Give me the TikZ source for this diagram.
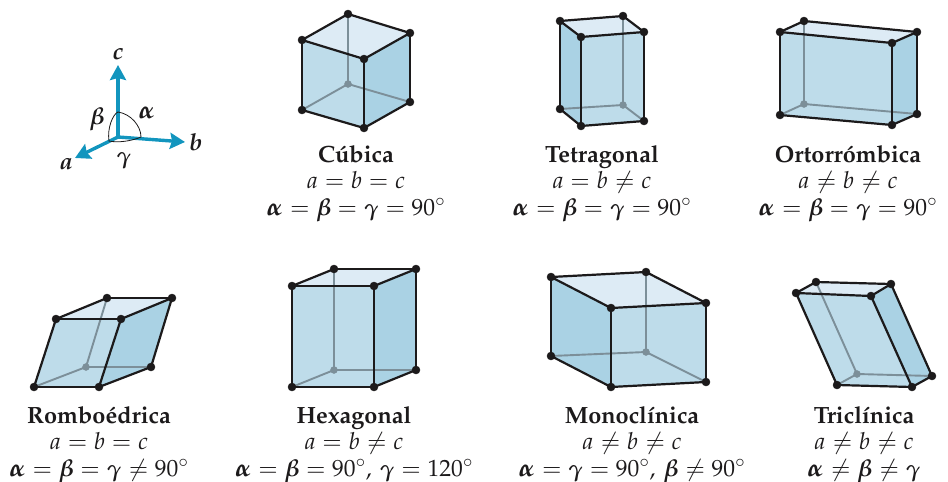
\documentclass[tikz,border=0pt]{standalone}
\usepackage[T1]{fontenc}
\usepackage{amsmath,amssymb}
\usepackage{mathpazo}
\usepackage{tikz,tkz-euclide}
\usetikzlibrary{arrows.meta}
\definecolor{celBase}{HTML}{BEDCEA}
\definecolor{celTop}{HTML}{DDEBF5}
\definecolor{celSide}{HTML}{AAD2E4}
\definecolor{celBack}{HTML}{7C8F99}
\definecolor{celEdge}{HTML}{1C1A1B}
\definecolor{axisBlue}{HTML}{1295BE}
\tikzset{
	celltext/.style={align=center, anchor=base, text=celEdge, inner sep=0pt, font=\fontsize{23.5}{26.5}\selectfont},
	axislabel/.style={text=celEdge, inner sep=0pt, font=\fontsize{23.5}{26}\selectfont},
	axisarrow/.style={axisBlue, line width=3.4pt, -{Stealth[length=15pt,width=16pt,inset=2pt]}}
}
\newcommand{\ga}{\scalebox{1.25}[1.05]{$\boldsymbol{\alpha}$}}
\newcommand{\gb}{\boldsymbol{\beta}}
\newcommand{\gc}{\boldsymbol{\gamma}}
\newcommand{\celda}[2]{%
	\tkzFillPolygon[fill=celBase,color=celBase](#1a,#1b,#1c,#1g,#1h,#1e)
	\tkzFillPolygon[fill=celTop,color=celTop](#1a,#1b,#1c,#1d)
	\tkzFillPolygon[fill=celSide,color=celSide](#2)
	\tkzDrawSegments[celBack,line width=1.9pt](#1b,#1f #1e,#1f #1f,#1g)
	\tkzDrawSegments[celEdge,line width=2.2pt](#1a,#1b #1b,#1c #1c,#1d #1d,#1a #1a,#1e #1c,#1g #1d,#1h #1e,#1h #1h,#1g)
	\tkzDrawPoints[fill=celBack,color=celBack,size=7](#1f)
	\tkzDrawPoints[fill=celEdge,color=celEdge,size=8](#1a,#1b,#1c,#1d,#1e,#1g,#1h)
}
\begin{document}
\begin{tikzpicture}[x=1pt,y=-1pt,>=stealth,line join=round,line cap=round]
	\useasboundingbox (0,0) rectangle (948,482);
	\tkzDefPoints{118/137/O, 118/65/Ac, 185/142/Ab, 75/158/Aa, 118/112/Pc, 141/137/Pb, 109/141/Pa}
	\draw[axisarrow] (O) -- (Ac);
	\draw[axisarrow] (O) -- (Ab);
	\draw[axisarrow] (O) -- (Aa);
	\draw[celEdge,line width=0.8pt] (Pc) .. controls (131,114) and (141,126) .. (Pb);
	\draw[celEdge,line width=0.8pt] (Pc) .. controls (113,114) and (107,128) .. (Pa);
	\draw[celEdge,line width=0.8pt] (Pa) .. controls (118,143) and (132,141) .. (Pb);
	\node[axislabel] (lc) at (118,54) {$\boldsymbol{c}$};
	\node[axislabel] (lb) at (196,142) {$\boldsymbol{b}$};
	\node[axislabel] (la) at (66,164) {$\boldsymbol{a}$};
	\node[axislabel] (lbeta) at (97,119) {$\gb$};
	\node[axislabel] (lalpha) at (147,113) {$\ga$};
	\node[axislabel] (lgamma) at (124,161) {$\gc$};

	\tkzDefPoints{302/40/Ca, 348/14/Cb, 410/33/Cc, 364/59/Cd, 302/110/Ce, 348/84/Cf, 410/102/Cg, 364/128/Ch}
	\celda{C}{Cd,Cc,Cg,Ch}
	\node[celltext] (cubica) at (356,215) {\textbf{Cúbica}\\$a=b=c$\\$\ga=\gb=\gc=90^\circ$};

	\tkzDefPoints{560/21/Ta, 623/16/Tb, 644/32/Tc, 581/37/Td, 560/109/Te, 623/105/Tf, 644/121/Tg, 581/126/Th}
	\celda{T}{Ta,Td,Th,Te}
	\node[celltext] (tetragonal) at (602,215) {\textbf{Tetragonal}\\$a=b\neq c$\\$\ga=\gb=\gc=90^\circ$};

	\tkzDefPoints{780/32/Oa, 804/21/Ob, 917/32/Oc, 892/43/Od, 780/115/Oe, 804/104/Of, 917/114/Og, 892/125/Oh}
	\celda{O}{Od,Oc,Og,Oh}
	\node[celltext] (ortorrombica) at (848,215) {\textbf{Ortorrómbica}\\$a\neq b\neq c$\\$\ga=\gb=\gc=90^\circ$};

	\tkzDefPoints{56/319/Ra, 107/298/Rb, 172/298/Rc, 121/319/Rd, 34/387/Re, 86/367/Rf, 151/367/Rg, 99/387/Rh}
	\celda{R}{Rd,Rc,Rg,Rh}
	\node[celltext] (romboedrica) at (99,476) {\textbf{Romboédrica}\\$a=b=c$\\$\ga=\gb=\gc\neq 90^\circ$};

	\tkzDefPoints{292/286/Ha, 334/269/Hb, 416/269/Hc, 374/286/Hd, 292/387/He, 334/370/Hf, 416/370/Hg, 374/387/Hh}
	\celda{H}{Hd,Hc,Hg,Hh}
	\node[celltext] (hexagonal) at (354,476) {\textbf{Hexagonal}\\$a=b\neq c$\\$\ga=\gb=90^\circ,\,\gc=120^\circ$};

	\tkzDefPoints{551/277/Ma, 646/272/Mb, 706/303/Mc, 611/308/Md, 551/356/Me, 646/352/Mf, 706/382/Mg, 611/387/Mh}
	\celda{M}{Ma,Md,Mh,Me}
	\node[celltext] (monoclinica) at (632,476) {\textbf{Monoclínica}\\$a\neq b\neq c$\\$\ga=\gc=90^\circ,\,\gb\neq 90^\circ$};

	\tkzDefPoints{796/293/La, 816/282/Lb, 891/284/Lc, 871/296/Ld, 837/385/Le, 857/374/Lf, 932/376/Lg, 912/387/Lh}
	\celda{L}{Ld,Lc,Lg,Lh}
	\node[celltext] (triclinica) at (864,476) {\textbf{Triclínica}\\$a\neq b\neq c$\\$\ga\neq\gb\neq\gc$};
\end{tikzpicture}
\end{document}
